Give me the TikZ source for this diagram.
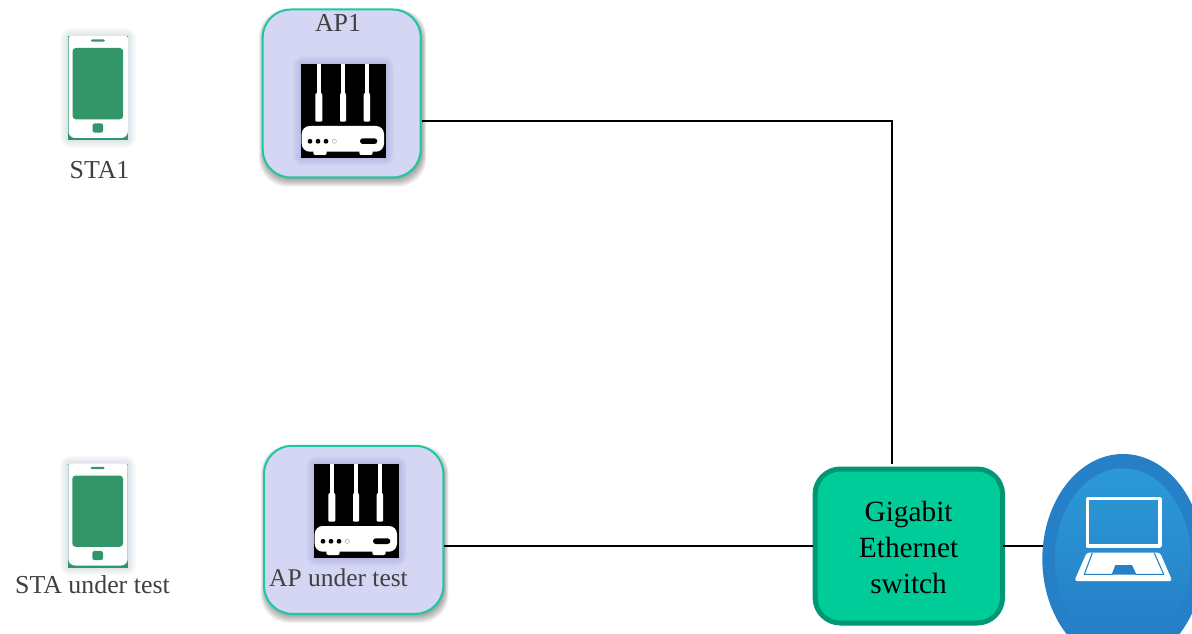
\documentclass[tikz,border=0pt]{standalone}
\usepackage{fontspec}
\setmainfont{Liberation Serif}
\usetikzlibrary{calc}
\definecolor{apfill}{HTML}{D5D6F3}
\definecolor{apline}{HTML}{1CC8A0}
\definecolor{swfill}{HTML}{00CC99}
\definecolor{swline}{HTML}{009874}
\definecolor{phonegreen}{HTML}{339669}
\definecolor{labelgrey}{HTML}{404040}
\definecolor{lapouter}{HTML}{2680C8}
\definecolor{lapinner}{HTML}{2FA9DE}
\definecolor{routerglow}{HTML}{6A70B8}
\definecolor{phoneglow}{HTML}{7F9DB5}
\pgfdeclareverticalshading{lapshade}{100bp}{color(0bp)=(lapouter); color(32bp)=(lapouter); color(100bp)=(lapinner)}
\tikzset{
  x=0.75pt,y=-0.75pt,
  apbox/.style={draw=apline,line width=1.5pt,fill=apfill,rounded corners=21pt,inner sep=0pt,minimum width=118.5pt,minimum height=126pt},
  swbox/.style={draw=swline,line width=3.75pt,fill=swfill,rounded corners=19pt,inner sep=0pt,minimum width=140.6pt,minimum height=115.5pt},
  swtext/.style={align=center,inner sep=0pt,font=\fontsize{22}{27}\selectfont},
  lbl/.style={anchor=base,text=labelgrey,font=\fontsize{19.4}{23}\selectfont,inner sep=0pt},
  wire/.style={line width=2.2pt,black},
}
\newcommand{\softshadow}[5]{% x1 y1 x2 y2 radius
  \foreach \g in {0,...,7}{
    \fill[black,opacity=0.05,rounded corners=#5pt] ($(#1+1-\g*0.6,#2+4-\g*0.6)$) rectangle ($(#3+1+\g*0.6,#4+1+\g*1.1)$);
  }}
\newcommand{\glow}[5]{%
  \foreach \g in {1,...,8}{
    \fill[#5,opacity=0.03,rounded corners=\g pt] (#1-\g,#2-\g) rectangle (#3+\g,#4+\g);
  }}
\newcommand{\routericon}[2]{%
  \begin{scope}[shift={(#1,#2)}]
    \glow{0}{0}{85}{94}{routerglow}
    \fill[black] (0,0) rectangle (85,94);
    \foreach \tx/\tw/\wx/\ww in {15.7/4/14.3/7,39.7/4/39/6,63.5/4.2/62.7/6.3}{
      \fill[white] (\tx,0) rectangle (\tx+\tw,31);
      \fill[white,rounded corners=0.8pt] (\wx,30) -- (\wx,57.7) -- (\wx+\ww,57.7) -- (\wx+\ww,30) -- (\wx+\ww-1,29) -- (\wx+1,29) -- cycle;
    }
    \fill[white,rounded corners=1.5pt] (12.3,84) rectangle (25.7,91);
    \fill[white,rounded corners=1.5pt] (58.3,84) rectangle (71.7,91);
    \fill[white,rounded corners=6pt] (0.7,62) rectangle (83,87.7);
    \fill[black] (9,77.3) circle (1.8pt);
    \fill[black] (17,77.3) circle (1.8pt);
    \fill[black] (25,77.3) circle (1.8pt);
    \draw[gray!70,line width=0.35pt,fill=white] (33.3,77.3) circle (1.6pt);
    \fill[black,rounded corners=2.1pt] (59,74.3) rectangle (76.3,80);
  \end{scope}}
\newcommand{\phoneicon}[2]{%
  \begin{scope}[shift={(#1,#2)}]
    \glow{0}{0}{60}{104}{phoneglow}
    \fill[phonegreen] (0,0) rectangle (60,104);
    \fill[white,rounded corners=1.2pt] (0.3,0) -- (0.3,50) {[rounded corners=5pt] -- (0.3,102) -- (59.7,102) -- (59.7,50)} -- (59.7,0) -- cycle;
    \fill[phonegreen,rounded corners=2.5pt] (4.3,12) rectangle (55,83.3);
    \fill[phonegreen,rounded corners=0.9pt] (22.7,3.3) rectangle (36.7,5.7);
    \fill[phonegreen,rounded corners=1.8pt] (24.3,87.3) rectangle (35,96.7);
  \end{scope}}
\begin{document}
\begin{tikzpicture}
\useasboundingbox (0,0) rectangle (1192,634);
\fill[white] (0,0) rectangle (1192,634);
\begin{scope}
\clip (0,0) rectangle (1192,634);
% soft shadows
\softshadow{262.3}{9}{421}{178}{21}
\softshadow{264}{445.3}{443.3}{614.3}{21}
% AP boxes
\node[apbox] (ap1) at (341.7,93.5) {};
\node[apbox,minimum width=134.5pt] (apt) at (353.7,529.8) {};
% switch
\node[swbox] (sw) at (908.8,546) {};
\node[swtext] (swt) at (908.6,547.4) {Gigabit\\Ethernet\\switch};
% wires
\coordinate (ap1port) at (ap1.east |- 0,121);
\coordinate (swtop) at (892,464.3);
\coordinate (aptport) at (apt.east |- sw.west);
\draw[wire] (ap1port) -| (swtop);
\draw[wire] (aptport) -- (sw.west);
% laptop
\node[fill=lapouter,inner sep=0pt,minimum size=0pt] (lap) at (1123,559) {};
\fill[lapouter] (lap.center) ellipse [x radius=60.5pt,y radius=78.75pt];
\coordinate (lapw) at (1043,0);
\draw[wire] ($(sw.east)+(-2,0)$) -- (sw.east -| lapw);
\path[shading=lapshade] (lap.center) ellipse [x radius=51pt,y radius=68pt];
% laptop icon
\draw[white,line width=2.6pt,line join=round] (1087.4,498.7) rectangle (1160,546);
\fill[white,rounded corners=2pt] (1086.7,552.7) -- (1074.3,581) -- (1172.3,581) -- (1160,552.7) -- cycle;
\draw[lapouter,line width=0.8pt,line join=round] (1092.3,553) -- (1084.3,574.3) -- (1112.3,574.3) -- (1115.7,565.7) -- (1131.7,565.7) -- (1135.7,574.3) -- (1163.7,574.3) -- (1154.3,553);
\fill[lapouter] (1112.3,574.6) -- (1115.7,565.7) -- (1131.7,565.7) -- (1135.7,574.6) -- cycle;
% icons
\routericon{301}{64}
\routericon{314}{464}
\phoneicon{68.2}{36}
\phoneicon{68}{463.5}
% labels
\node[lbl] (l1) at (99.5,179) {STA1};
\node[lbl] (l2) at (338,32) {AP1};
\node[lbl] (l3) at (92.5,593.5) {STA under test};
\node[lbl,font=\fontsize{19.1}{23}\selectfont] (l4) at (338.5,586.5) {AP under test};
\end{scope}
\end{tikzpicture}
\end{document}
